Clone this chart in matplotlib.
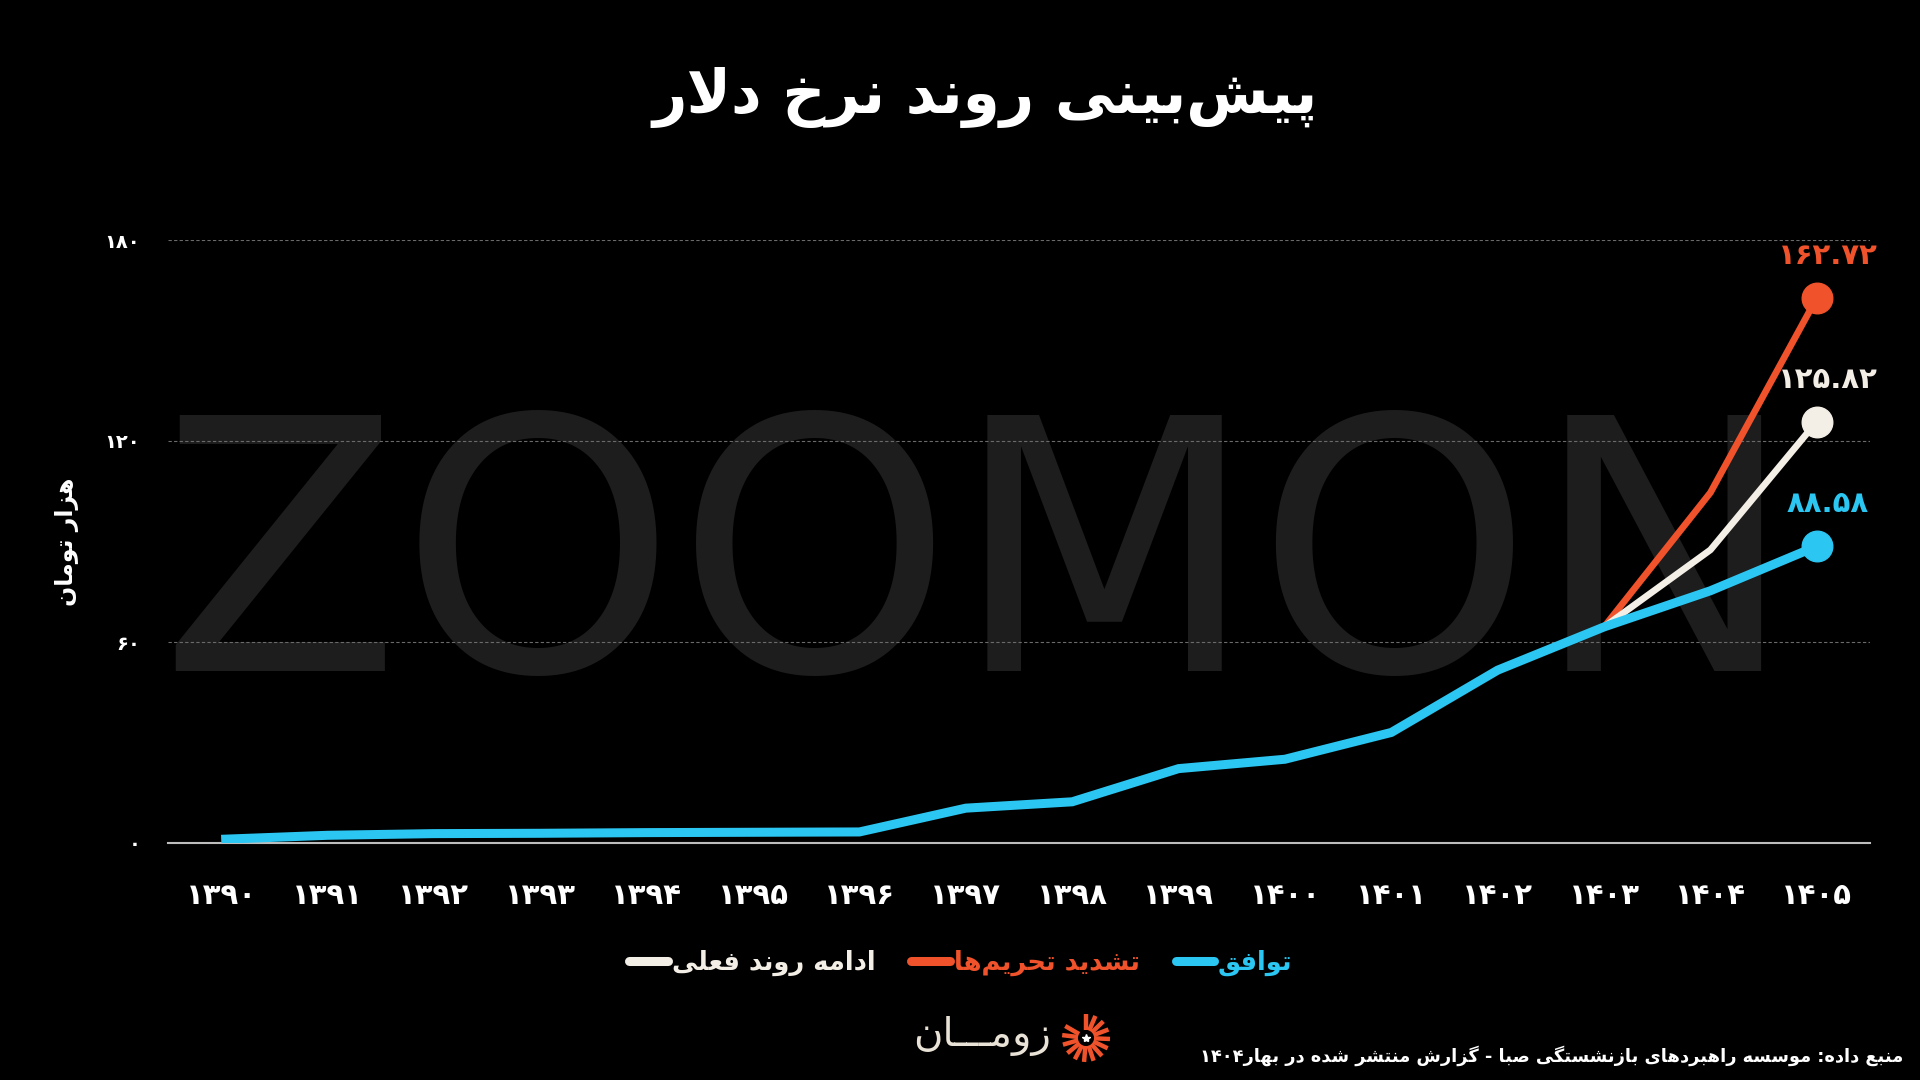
import matplotlib
matplotlib.use('Agg')
import matplotlib.pyplot as plt
from matplotlib.lines import Line2D
import numpy as np

# ---------------- data ----------------
years = ['۱۳۹۰', '۱۳۹۱', '۱۳۹۲', '۱۳۹۳', '۱۳۹۴', '۱۳۹۵', '۱۳۹۶', '۱۳۹۷',
         '۱۳۹۸', '۱۳۹۹', '۱۴۰۰', '۱۴۰۱', '۱۴۰۲', '۱۴۰۳', '۱۴۰۴', '۱۴۰۵']
deal = [1.1, 2.3, 2.8, 2.9, 3.1, 3.2, 3.3, 10.4, 12.3, 22.2, 25.0, 33.0,
        51.6, 64.5, 75.3, 88.58]
sanction_years = ['۱۴۰۳', '۱۴۰۴', '۱۴۰۵']
sanctions = [64.5, 104.6, 162.72]
current = [64.5, 87.5, 125.82]
yticks = [0, 60, 120, 180]
ytick_labels = ['۰', '۶۰', '۱۲۰', '۱۸۰']
end_labels = {'sanctions': '۱۶۲.۷۲', 'current': '۱۲۵.۸۲', 'deal': '۸۸.۵۸'}

title = 'پیش‌بینی روند نرخ دلار'
ylabel = 'هزار تومان'
legend_names = {'deal': 'توافق', 'sanctions': 'تشدید تحریم‌ها', 'current': 'ادامه روند فعلی'}
source = 'منبع داده: موسسه راهبردهای بازنشستگی صبا - گزارش منتشر شده در بهار۱۴۰۴'
logo = 'زومـــان'

BLUE = '#2BC6F2'
ORANGE = '#F0532B'
WHITE = '#F4EFE6'

# ---------------- minimal Arabic/Persian shaping ----------------
FORMS = {  # isolated, final, initial, medial
    'ا': ('\uFE8D', '\uFE8E', None, None),
    'ب': ('\uFE8F', '\uFE90', '\uFE91', '\uFE92'),
    'پ': ('\uFB56', '\uFB57', '\uFB58', '\uFB59'),
    'ت': ('\uFE95', '\uFE96', '\uFE97', '\uFE98'),
    'ح': ('\uFEA1', '\uFEA2', '\uFEA3', '\uFEA4'),
    'خ': ('\uFEA5', '\uFEA6', '\uFEA7', '\uFEA8'),
    'د': ('\uFEA9', '\uFEAA', None, None),
    'ر': ('\uFEAD', '\uFEAE', None, None),
    'ز': ('\uFEAF', '\uFEB0', None, None),
    'س': ('\uFEB1', '\uFEB2', '\uFEB3', '\uFEB4'),
    'ش': ('\uFEB5', '\uFEB6', '\uFEB7', '\uFEB8'),
    'ص': ('\uFEB9', '\uFEBA', '\uFEBB', '\uFEBC'),
    'ع': ('\uFEC9', '\uFECA', '\uFECB', '\uFECC'),
    'ف': ('\uFED1', '\uFED2', '\uFED3', '\uFED4'),
    'ق': ('\uFED5', '\uFED6', '\uFED7', '\uFED8'),
    'گ': ('\uFB92', '\uFB93', '\uFB94', '\uFB95'),
    'ل': ('\uFEDD', '\uFEDE', '\uFEDF', '\uFEE0'),
    'م': ('\uFEE1', '\uFEE2', '\uFEE3', '\uFEE4'),
    'ن': ('\uFEE5', '\uFEE6', '\uFEE7', '\uFEE8'),
    'ه': ('\uFEE9', '\uFEEA', '\uFEEB', '\uFEEC'),
    'و': ('\uFEED', '\uFEEE', None, None),
    'ی': ('\uFBFC', '\uFBFD', '\uFBFE', '\uFBFF'),
}
TATWEEL = 'ـ'


def joins_forward(c):
    return c == TATWEEL or (c in FORMS and FORMS[c][2] is not None)


def is_letter(c):
    return c == TATWEEL or c in FORMS


def shape(text):
    out = []
    chars = list(text)
    i = 0
    n = len(chars)
    while i < n:
        c = chars[i]
        prev = chars[i - 1] if i > 0 else ''
        prev_con = joins_forward(prev)
        if c == '\u200c':
            i += 1
            continue
        if c == 'ل' and i + 1 < n and chars[i + 1] == 'ا':
            out.append('\uFEFC' if prev_con else '\uFEFB')
            i += 2
            continue
        if c in FORMS:
            nxt = chars[i + 1] if i + 1 < n else ''
            next_con = FORMS[c][2] is not None and is_letter(nxt)
            iso, fin, ini, med = FORMS[c]
            if prev_con and next_con:
                out.append(med)
            elif prev_con:
                out.append(fin)
            elif next_con:
                out.append(ini)
            else:
                out.append(iso)
        else:
            out.append(c)
        i += 1
    # visual order: reverse, keeping digit runs left-to-right
    s = ''.join(out)
    runs = []
    cur = ''
    for ch in s:
        if ch.isdigit():
            cur += ch
        else:
            if cur:
                runs.append(cur)
                cur = ''
            runs.append(ch)
    if cur:
        runs.append(cur)
    return ''.join(reversed(runs))


FONT = 'DejaVu Sans'
plt.rcParams['font.family'] = [FONT]

# ---------------- figure ----------------
fig = plt.figure(figsize=(19.2, 10.8), dpi=100, facecolor='black')
ax = fig.add_axes([168 / 1920, 237 / 1080, (1870 - 168) / 1920, (843 - 240) / 1080])
ax.set_facecolor('black')

x = np.arange(len(years))
xs = np.array([years.index(y) for y in sanction_years])

# watermark
ax.text(0.509, 0.3787, 'ZOOMON', transform=fig.transFigure, ha='center',
        va='baseline', fontsize=253, color='#1d1d1d', family='DejaVu Sans',
        zorder=0.1, clip_on=False)

ax.plot(xs, sanctions, color=ORANGE, lw=4.8, solid_capstyle='round',
        solid_joinstyle='round', zorder=3)
ax.plot(xs, current, color=WHITE, lw=4.8, solid_capstyle='round',
        solid_joinstyle='round', zorder=3)
ax.plot(x, deal, color=BLUE, lw=6.5, solid_capstyle='butt',
        solid_joinstyle='miter', zorder=4)

ax.plot(xs[-1], sanctions[-1], 'o', ms=22, color=ORANGE, zorder=5, clip_on=False)
ax.plot(xs[-1], current[-1], 'o', ms=22, color=WHITE, zorder=5, clip_on=False)
ax.plot(x[-1], deal[-1], 'o', ms=22, color=BLUE, zorder=5, clip_on=False)

lab_kw = dict(ha='center', va='bottom', fontsize=21, fontweight='bold', clip_on=False)
ax.annotate(end_labels['sanctions'], (xs[-1], sanctions[-1]), xytext=(8, 20),
            textcoords='offset points', color=ORANGE, **lab_kw)
ax.annotate(end_labels['current'], (xs[-1], current[-1]), xytext=(8, 20),
            textcoords='offset points', color=WHITE, **lab_kw)
ax.annotate(end_labels['deal'], (x[-1], deal[-1]), xytext=(8, 20),
            textcoords='offset points', color=BLUE, **lab_kw)

ax.set_xlim(-0.5, len(years) - 0.5)
ax.set_ylim(0, 180)
ax.set_xticks(x)
ax.set_xticklabels(years, fontsize=21, fontweight='bold', color='white')
ax.set_yticks(yticks)
ax.set_yticklabels(ytick_labels, fontsize=14, fontweight='bold', color='white')
ax.tick_params(axis='x', length=0, pad=28)
ax.tick_params(axis='y', length=0, pad=20)
for sp in ['top', 'right', 'left']:
    ax.spines[sp].set_visible(False)
ax.spines['bottom'].set_color('#bdbdbd')
ax.spines['bottom'].set_linewidth(1.5)
ax.set_axisbelow(True)
ax.yaxis.grid(True, color='#6a6a6a', linestyle=(0, (3, 2)), linewidth=0.8)
ax.xaxis.grid(False)
for gl, t in zip(ax.yaxis.get_gridlines(), yticks):
    if t == 0:
        gl.set_visible(False)

ax.set_ylabel(shape(ylabel), fontsize=17, fontweight='bold', color='white')
ax.yaxis.set_label_coords(-0.052, 0.5)

fig.text(985 / 1920, 1 - 98 / 1080, shape(title), ha='center', va='center',
         fontsize=43, fontweight='bold', color='white')

# legend (left to right: current, sanctions, deal)
handles = [Line2D([], [], color=WHITE, lw=6.5, solid_capstyle='round'),
           Line2D([], [], color=ORANGE, lw=6.5, solid_capstyle='round'),
           Line2D([], [], color=BLUE, lw=6.5, solid_capstyle='round')]
labels = [shape(legend_names['current']), shape(legend_names['sanctions']),
          shape(legend_names['deal'])]
leg = fig.legend(handles, labels, loc='center', bbox_to_anchor=(961 / 1920, 1 - 963 / 1080),
                 ncol=3, frameon=False, handlelength=1.5,
                 handletextpad=0.15, columnspacing=1.4,
                 prop={'family': FONT, 'weight': 'bold', 'size': 18.5})
for txt, col in zip(leg.get_texts(), [WHITE, ORANGE, BLUE]):
    txt.set_color(col)

# source
fig.text(1903 / 1920, 1 - 1056 / 1080, shape(source), ha='right', va='center',
         fontsize=12.8, fontweight='bold', color='white')

# logo
fig.text(982 / 1920, 1 - 1036 / 1080, shape(logo), ha='center', va='center',
         fontsize=29, fontweight='normal', color='#E9E2D6')
lax = fig.add_axes([1054 / 1920, 1 - 1064 / 1080, 64 / 1920, 52 / 1080])
lax.set_xlim(-1.3, 1.3)
lax.set_ylim(-1.3, 1.3)
lax.set_aspect('equal')
lax.axis('off')
for a in np.linspace(0, 300, 14):
    r = np.deg2rad(90 - a)
    lax.plot([0.4 * np.cos(r), 1.2 * np.cos(r)], [0.4 * np.sin(r), 1.2 * np.sin(r)],
             color=ORANGE, lw=3.2, solid_capstyle='butt')
lax.plot(0, 0, marker='*', color='white', ms=6)

fig.savefig('out.png', dpi=100, facecolor='black')
